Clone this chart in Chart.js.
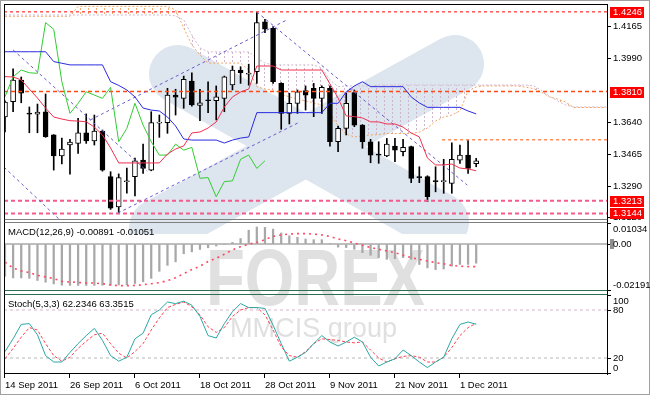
<!DOCTYPE html>
<html lang="en">
<head>
<meta charset="utf-8">
<title>EURUSD Daily - Ichimoku, MACD, Stochastic</title>
<script src="https://cdn.jsdelivr.net/npm/chart.js@4.4.1/dist/chart.umd.min.js"></script>
<style>
    html, body { margin: 0; padding: 0; background: #fff; }
    #chart-wrap { position: relative; width: 650px; height: 395px; overflow: hidden; }
    #chart-wrap canvas { position: absolute; left: 0; }
</style>
</head>
<body>
<div id="chart-wrap">
    <canvas id="backdrop" width="650" height="395" style="top:0"></canvas>
    <canvas id="price-chart" width="650" height="221" style="top:0"></canvas>
    <canvas id="macd-chart" width="650" height="71" style="top:221px"></canvas>
    <canvas id="stoch-chart" width="650" height="103" style="top:292px"></canvas>
</div>
<script>
// Daily bars, 14 Sep 2011 - 5 Dec 2011
const dateLabels = ['14 Sep 2011', '26 Sep 2011', '6 Oct 2011', '18 Oct 2011', '28 Oct 2011', '9 Nov 2011', '21 Nov 2011', '1 Dec 2011'];
const dateTickBars = [0, 8, 16, 24, 32, 40, 48, 56];

const opens = [
    1.3672, 1.3755, 1.3873, 1.3692, 1.3687, 1.3700, 1.3573, 1.3458, 1.3518, 1.3527,
    1.3585, 1.3541, 1.3594, 1.3345, 1.3180, 1.3317, 1.3345, 1.3436, 1.3381, 1.3638,
    1.3640, 1.3791, 1.3773, 1.3868, 1.3735, 1.3762, 1.3760, 1.3773, 1.3846, 1.3928,
    1.3905, 1.3919, 1.4192, 1.4156, 1.3855, 1.3691, 1.3746, 1.3815, 1.3828, 1.3773,
    1.3828, 1.3536, 1.3609, 1.3804, 1.3627, 1.3536, 1.3465, 1.3458, 1.3512, 1.3481,
    1.3509, 1.3342, 1.3345, 1.3320, 1.3318, 1.3308, 1.3435, 1.3463, 1.3416
];
const highs = [
    1.3760, 1.3934, 1.3890, 1.3726, 1.3742, 1.3797, 1.3575, 1.3556, 1.3549, 1.3664,
    1.3688, 1.3682, 1.3600, 1.3372, 1.3360, 1.3392, 1.3447, 1.3523, 1.3700, 1.3682,
    1.3828, 1.3823, 1.3895, 1.3913, 1.3823, 1.3864, 1.3841, 1.3895, 1.3950, 1.3946,
    1.3960, 1.4242, 1.4205, 1.4165, 1.3859, 1.3801, 1.3819, 1.3841, 1.3855, 1.3841,
    1.3841, 1.3622, 1.3801, 1.3819, 1.3630, 1.3549, 1.3536, 1.3554, 1.3554, 1.3549,
    1.3512, 1.3399, 1.3350, 1.3399, 1.3440, 1.3530, 1.3517, 1.3549, 1.3445
];
const lows = [
    1.3589, 1.3700, 1.3749, 1.3585, 1.3585, 1.3560, 1.3381, 1.3414, 1.3359, 1.3472,
    1.3527, 1.3518, 1.3375, 1.3166, 1.3144, 1.3255, 1.3240, 1.3363, 1.3377, 1.3560,
    1.3582, 1.3682, 1.3719, 1.3731, 1.3651, 1.3695, 1.3655, 1.3700, 1.3819, 1.3855,
    1.3845, 1.3855, 1.4132, 1.3855, 1.3604, 1.3633, 1.3691, 1.3709, 1.3673, 1.3691,
    1.3512, 1.3481, 1.3573, 1.3618, 1.3500, 1.3421, 1.3418, 1.3454, 1.3427, 1.3458,
    1.3312, 1.3312, 1.3208, 1.3262, 1.3254, 1.3254, 1.3418, 1.3363, 1.3399
];
const closes = [
    1.3753, 1.3873, 1.3801, 1.3686, 1.3698, 1.3563, 1.3458, 1.3496, 1.3534, 1.3585,
    1.3541, 1.3594, 1.3381, 1.3172, 1.3340, 1.3321, 1.3432, 1.3390, 1.3640, 1.3642,
    1.3791, 1.3779, 1.3877, 1.3737, 1.3749, 1.3760, 1.3782, 1.3891, 1.3928, 1.3913,
    1.3910, 1.4187, 1.4151, 1.3864, 1.3691, 1.3746, 1.3809, 1.3791, 1.3773, 1.3833,
    1.3536, 1.3609, 1.3746, 1.3627, 1.3536, 1.3463, 1.3463, 1.3523, 1.3490, 1.3505,
    1.3336, 1.3340, 1.3235, 1.3318, 1.3322, 1.3440, 1.3463, 1.3390, 1.3432
];

// Ichimoku lines
const tenkan = [
    1.3892, 1.3890, 1.3874, 1.3824, 1.3775, 1.3720, 1.3671, 1.3660, 1.3651, 1.3649,
    1.3645, 1.3616, 1.3573, 1.3502, 1.3420, 1.3420, 1.3420, 1.3420, 1.3420, 1.3420,
    1.3469, 1.3496, 1.3513, 1.3584, 1.3589, 1.3611, 1.3644, 1.3726, 1.3781, 1.3808,
    1.3824, 1.3950, 1.3950, 1.3950, 1.3928, 1.3928, 1.3928, 1.3928, 1.3928, 1.3928,
    1.3852, 1.3775, 1.3677, 1.3673, 1.3666, 1.3645, 1.3644, 1.3633, 1.3633, 1.3616,
    1.3584, 1.3562, 1.3447, 1.3409, 1.3409, 1.3414, 1.3392, 1.3387, 1.3377
];
const kijun = [
    1.4028, 1.4028, 1.4028, 1.4028, 1.4028, 1.4028, 1.3974, 1.3965, 1.3956, 1.3956,
    1.3956, 1.3956, 1.3956, 1.3864, 1.3844, 1.3819, 1.3781, 1.3720, 1.3709, 1.3704,
    1.3671, 1.3622, 1.3551, 1.3545, 1.3545, 1.3545, 1.3545, 1.3529, 1.3545, 1.3556,
    1.3562, 1.3695, 1.3695, 1.3695, 1.3695, 1.3695, 1.3695, 1.3695, 1.3695, 1.3695,
    1.3746, 1.3746, 1.3808, 1.3841, 1.3864, 1.3837, 1.3837, 1.3837, 1.3837, 1.3837,
    1.3781, 1.3748, 1.3724, 1.3724, 1.3724, 1.3724, 1.3724, 1.3704, 1.3688
];
const senkouA = [
    1.4222, 1.4222, 1.4222, 1.4222, 1.4222, 1.4222, 1.4222, 1.4222, 1.4222, 1.4276,
    1.4276, 1.4276, 1.4276, 1.4276, 1.4276, 1.4276, 1.4276, 1.4276, 1.4276, 1.4276,
    1.4276, 1.4256, 1.4158, 1.4065, 1.4010, 1.3966, 1.3966, 1.3966, 1.3966, 1.3966,
    1.3928, 1.3837, 1.3824, 1.3819, 1.3797, 1.3781, 1.3770, 1.3759, 1.3748, 1.3737,
    1.3693, 1.3622, 1.3578, 1.3562, 1.3567, 1.3573, 1.3575, 1.3581, 1.3581, 1.3581,
    1.3581, 1.3589, 1.3611, 1.3649, 1.3671, 1.3682, 1.3704, 1.3813, 1.3835, 1.3841,
    1.3841, 1.3841, 1.3841, 1.3841, 1.3835, 1.3827, 1.3808, 1.3781, 1.3770, 1.3753,
    1.3723, 1.3723, 1.3723, 1.3723, 1.3723
];
const senkouB = [
    1.4229, 1.4229, 1.4229, 1.4229, 1.4229, 1.4229, 1.4229, 1.4229, 1.4229, 1.4229,
    1.4229, 1.4229, 1.4229, 1.4229, 1.4229, 1.4229, 1.4229, 1.4229, 1.4229, 1.4229,
    1.4229, 1.4224, 1.4202, 1.4120, 1.4049, 1.4027, 1.4027, 1.4027, 1.4027, 1.4027,
    1.4027, 1.3994, 1.3966, 1.3956, 1.3956, 1.3956, 1.3956, 1.3956, 1.3956, 1.3939,
    1.3874, 1.3837, 1.3841, 1.3841, 1.3841, 1.3841, 1.3846, 1.3846, 1.3846, 1.3846,
    1.3846, 1.3846, 1.3846, 1.3846, 1.3846, 1.3846, 1.3846, 1.3846, 1.3846, 1.3846,
    1.3846, 1.3846, 1.3846, 1.3846, 1.3846, 1.3843, 1.3819, 1.3786, 1.3759, 1.3737,
    1.3726, 1.3726, 1.3726, 1.3726, 1.3726
];
// Chikou span: closes drawn 26 bars back
const chikouShift = 26;

// Support / resistance levels and trend lines (bar index, price)
const markedLevels = [1.4246, 1.3810, 1.3213, 1.3144];
const shortLevel = 1.3547;
const shortLevelFromBar = 53.8;
const trendLines = [
    [[1.0, 1.4038], [17.5, 1.3375]],
    [[-0.12, 1.3397], [8.0, 1.3056]],
    [[13.9, 1.3146], [36.3, 1.3644]],
    [[10.5, 1.3655], [34.7, 1.4202]],
    [[31.0, 1.4245], [56.9, 1.3299]]
];
const priceTicks = [1.4165, 1.3990, 1.3640, 1.3465, 1.3290, 1.3120];

// MACD(12,26,9)
const macdMain = [
    -0.0150, -0.0158, -0.0158, -0.0160, -0.0170, -0.0178, -0.0186, -0.0192, -0.0193, -0.0193,
    -0.0193, -0.0193, -0.0192, -0.0192, -0.0191, -0.0190, -0.0184, -0.0176, -0.0160, -0.0127,
    -0.0099, -0.0083, -0.0045, -0.0036, -0.0025, -0.0017, -0.0009, -0.0002, 0.0008, 0.0026,
    0.0065, 0.0080, 0.0078, 0.0070, 0.0052, 0.0039, 0.0032, 0.0024, 0.0021, 0.0021,
    0.0002, -0.0014, -0.0016, -0.0024, -0.0040, -0.0052, -0.0063, -0.0071, -0.0068, -0.0063,
    -0.0071, -0.0095, -0.0111, -0.0119, -0.0116, -0.0103, -0.0095, -0.0095, -0.00891
];
const macdSignal = [
    -0.0084, -0.0112, -0.0125, -0.0133, -0.0146, -0.0153, -0.0161, -0.0174, -0.0177, -0.0179,
    -0.0182, -0.0182, -0.0185, -0.0191, -0.0194, -0.0194, -0.0193, -0.0190, -0.0185, -0.0180,
    -0.0171, -0.0157, -0.0138, -0.0119, -0.0103, -0.0081, -0.0066, -0.0047, -0.0027, -0.0012,
    0.0000, 0.0008, 0.0021, 0.0036, 0.0043, 0.0047, 0.0049, 0.0049, 0.0047, 0.0043,
    0.0036, 0.0024, 0.0016, 0.0005, -0.0005, -0.0016, -0.0024, -0.0032, -0.0040, -0.0052,
    -0.0063, -0.0071, -0.0079, -0.0087, -0.0092, -0.0100, -0.0103, -0.0105, -0.01051
];
const macdAxisTicks = [0.01034, 0, -0.02191];

// Stochastic(5,3,3)
const stochMain = [
    28, 44, 62, 63, 49, 23, 15, 15, 27, 38,
    48, 57, 42, 23, 16, 21, 44, 51, 74, 80,
    90, 88, 91, 86, 72, 48, 45, 63, 78, 88,
    83, 83, 82, 61, 38, 16, 21, 27, 38, 48,
    40, 35, 40, 46, 40, 21, 10, 15, 19, 30,
    23, 15, 8, 15, 21, 44, 62, 65, 62.2346
];
const stochSignal = [
    19, 32, 46, 58, 55, 38, 23, 16, 21, 32,
    41, 49, 51, 38, 26, 20, 28, 38, 55, 70,
    83, 87, 90, 84, 74, 59, 52, 58, 72, 80,
    83, 83, 74, 55, 34, 23, 21, 28, 38, 44,
    43, 42, 40, 39, 40, 30, 20, 15, 19, 22,
    23, 21, 15, 15, 21, 33, 48, 58, 63.3515
];
const stochAxisTicks = [100, 80, 20, 0];
const stochLevels = [80, 20];

const X_MIN = -0.12;
const X_MAX = 74.1;
const FONT = { family: '"Liberation Sans", Arial, sans-serif', size: 9.5 };
const FONT_CSS = '9.5px "Liberation Sans", Arial, sans-serif';

const toPoints = (arr, shift) => arr.map((v, i) => ({ x: i - (shift || 0), y: v }));
const last = arr => arr[arr.length - 1];

/**
 * Dotted vertical hatch used for the kumo
 */
function hatch(color) {
    const c = document.createElement('canvas');
    c.width = 8;
    c.height = 4;
    const g = c.getContext('2d');
    g.fillStyle = color;
    g.fillRect(0, 0, 1, 2);
    return g.createPattern(c, 'repeat');
}

/**
 * Frame round the plot area of one sub-window
 */
const panelFrame = {
    id: 'panelFrame',
    afterDraw(chart, args, opts) {
        const { ctx, chartArea } = chart;
        const l = Math.round(chartArea.left) + 0.5;
        const r = Math.round(chartArea.right) + 0.5;
        const t = Math.round(chartArea.top) + 0.5;
        const b = Math.round(chartArea.bottom) - 0.5;
        const side = (color, x1, y1, x2, y2) => {
            ctx.strokeStyle = color;
            ctx.beginPath();
            ctx.moveTo(x1, y1);
            ctx.lineTo(x2, y2);
            ctx.stroke();
        };
        ctx.save();
        ctx.lineWidth = 1;
        side(opts.top, l, t, r, t);
        side(opts.bottom, l, b, r, b);
        side('#000', l, t, l, b);
        side('#000', r, t, r, b);
        ctx.restore();
    }
};

/**
 * Red price boxes on the right axis
 */
const priceMarks = {
    id: 'priceMarks',
    afterDraw(chart) {
        const { ctx, chartArea } = chart;
        const y = chart.scales.y;
        ctx.save();
        ctx.font = FONT_CSS;
        ctx.textBaseline = 'middle';
        ctx.textAlign = 'left';
        markedLevels.forEach(v => {
            const py = Math.round(y.getPixelForValue(v));
            ctx.fillStyle = '#ff0000';
            ctx.fillRect(chartArea.right + 3, py - 5, 34, 11);
            ctx.fillStyle = '#ffffff';
            ctx.fillText(v.toFixed(4), chartArea.right + 6, py + 0.5);
        });
        ctx.restore();
    }
};

/**
 * Indicator name and right-hand scale labels for the sub-windows
 */
const sideLabels = {
    id: 'sideLabels',
    afterDraw(chart, args, opts) {
        const { ctx, chartArea } = chart;
        const y = chart.scales.y;
        ctx.save();
        ctx.font = FONT_CSS;
        ctx.fillStyle = '#000';
        ctx.strokeStyle = '#000';
        ctx.textBaseline = 'middle';
        ctx.textAlign = 'left';
        ctx.fillText(opts.title, chartArea.left + 4, chartArea.top + 10.5);
        opts.values.forEach(v => {
            const py = y.getPixelForValue(v);
            const ty = Math.min(Math.max(py, chartArea.top + 7), chartArea.bottom - 6);
            const tk = Math.min(Math.max(Math.round(py), chartArea.top + 1), chartArea.bottom - 1) + 0.5;
            ctx.beginPath();
            ctx.moveTo(chartArea.right, tk);
            ctx.lineTo(chartArea.right + 4, tk);
            ctx.stroke();
            if (opts.marker && v === 0) {
                ctx.fillStyle = '#909090';
                ctx.fillRect(chartArea.right + 3, Math.round(py) - 5, 4, 10);
                ctx.fillStyle = '#000';
            }
            ctx.fillText(opts.format(v), chartArea.right + 6, ty);
        });
        ctx.restore();
    }
};

/**
 * Background: white page, watermark logo, outer border
 */
function drawBackdrop() {
    const g = document.getElementById('backdrop').getContext('2d');
    g.fillStyle = '#ffffff';
    g.fillRect(0, 0, 650, 395);

    g.save();
    g.beginPath();
    g.rect(4, 4, 603, 230);
    g.clip();
    g.lineCap = 'round';
    g.strokeStyle = '#dde5ee';
    g.lineWidth = 58;
    g.beginPath();
    g.moveTo(178, 74);
    g.lineTo(440, 222);
    g.moveTo(455, 64);
    g.lineTo(158, 228);
    g.stroke();
    g.restore();

    g.fillStyle = '#e0e0e0';
    g.textBaseline = 'alphabetic';
    g.font = 'bold 80px "Liberation Sans", Arial, sans-serif';
    g.fillText('FOREX', 206, 305, 219);
    g.font = '28px "Liberation Sans", Arial, sans-serif';
    g.fillText('MMCIS group', 230, 337, 167);

    g.strokeStyle = '#000';
    g.lineWidth = 1;
    g.beginPath();
    g.moveTo(4.5, 4);
    g.lineTo(4.5, 375);
    g.moveTo(607.5, 4);
    g.lineTo(607.5, 375);
    g.stroke();

    g.strokeStyle = '#a0a0a0';
    g.strokeRect(0.5, 0.5, 649, 394);
}

function xAxis() {
    return { type: 'linear', min: X_MIN, max: X_MAX, offset: false, display: false };
}

function rightAxisBox(extra) {
    return Object.assign({
        position: 'right',
        afterFit: s => { s.width = 43; s.paddingTop = 0; s.paddingBottom = 0; },
        ticks: { display: false },
        grid: { drawOnChartArea: false, drawTicks: false },
        border: { display: false }
    }, extra);
}

const baseOptions = (padding) => ({
    responsive: false,
    animation: false,
    devicePixelRatio: 1,
    events: [],
    layout: { padding: padding }
});

/**
 * Price window: candles + Ichimoku + levels
 */
function buildPriceChart() {
    const flat = (v, from) => [{ x: from, y: v }, { x: X_MAX, y: v }];
    const levelStyle = [
        { color: '#ff0000', width: 1, dash: [3, 3] },
        { color: '#ff4a10', width: 1.5, dash: [4, 3] },
        { color: '#f45a8a', width: 2, dash: [4, 3] },
        { color: '#f45a8a', width: 2, dash: [4, 3] }
    ];

    const datasets = [
        {
            type: 'line', label: 'Senkou A', data: toPoints(senkouA), order: 20,
            borderColor: '#f4a460', borderWidth: 1, borderDash: [2, 2], pointRadius: 0,
            fill: { target: 1, above: hatch('#f2b070'), below: hatch('#cdb6cd') }
        },
        {
            type: 'line', label: 'Senkou B', data: toPoints(senkouB), order: 19,
            borderColor: '#d2b8d2', borderWidth: 1, borderDash: [2, 2], pointRadius: 0, fill: false
        },
        {
            type: 'bar', label: 'Wicks', order: 15, grouped: false, barThickness: 1,
            data: lows.map((l, i) => ({ x: i, y: [l, highs[i]] })),
            backgroundColor: '#000', borderWidth: 0
        },
        {
            type: 'bar', label: 'Bodies', order: 14, grouped: false, barThickness: 5, minBarLength: 1,
            data: opens.map((o, i) => ({ x: i, y: [o, closes[i]] })),
            backgroundColor: opens.map((o, i) => closes[i] >= o ? '#ffffff' : '#000000'),
            borderColor: '#000', borderWidth: 1, borderSkipped: false
        }
    ];

    markedLevels.forEach((v, k) => {
        datasets.push({
            type: 'line', data: flat(v, X_MIN), order: 10, pointRadius: 0, fill: false,
            borderColor: levelStyle[k].color, borderWidth: levelStyle[k].width, borderDash: levelStyle[k].dash
        });
    });
    datasets.push({
        type: 'line', data: flat(shortLevel, shortLevelFromBar), order: 10, pointRadius: 0, fill: false,
        borderColor: '#ff8a55', borderWidth: 1.5, borderDash: [3, 3]
    });

    trendLines.forEach(seg => {
        datasets.push({
            type: 'line', data: seg.map(p => ({ x: p[0], y: p[1] })), order: 9, pointRadius: 0, fill: false,
            borderColor: '#6a5acd', borderWidth: 1, borderDash: [3, 3]
        });
    });

    datasets.push(
        {
            type: 'line', label: 'Chikou', data: toPoints(closes.slice(chikouShift)), order: 6,
            borderColor: '#33cc33', borderWidth: 1, pointRadius: 0, fill: false
        },
        {
            type: 'line', label: 'Kijun', data: toPoints(kijun), order: 5,
            borderColor: '#2a2ae0', borderWidth: 1, pointRadius: 0, fill: false
        },
        {
            type: 'line', label: 'Tenkan', data: toPoints(tenkan), order: 4,
            borderColor: '#f03050', borderWidth: 1, pointRadius: 0, fill: false
        }
    );

    return new Chart(document.getElementById('price-chart'), {
        type: 'bar',
        data: { datasets: datasets },
        options: Object.assign(baseOptions({ top: 4, left: 4, right: 0, bottom: 1 }), {
            plugins: {
                legend: { display: false },
                tooltip: { enabled: false },
                panelFrame: { top: '#000', bottom: '#808080' }
            },
            scales: {
                x: xAxis(),
                y: {
                    position: 'right',
                    min: 1.3108,
                    max: 1.4289,
                    afterFit: s => { s.width = 43; s.paddingTop = 0; s.paddingBottom = 0; },
                    afterBuildTicks: s => { s.ticks = priceTicks.map(v => ({ value: v })); },
                    ticks: {
                        autoSkip: false, padding: 2, color: '#000', font: FONT,
                        callback: v => v.toFixed(4)
                    },
                    grid: { drawOnChartArea: false, drawTicks: true, tickLength: 4, color: '#000' },
                    border: { display: false }
                }
            }
        }),
        plugins: [panelFrame, priceMarks]
    });
}

/**
 * MACD window
 */
function buildMacdChart() {
    return new Chart(document.getElementById('macd-chart'), {
        type: 'bar',
        data: {
            datasets: [
                {
                    type: 'line', data: [{ x: X_MIN, y: 0 }, { x: X_MAX, y: 0 }], order: 3,
                    borderColor: '#a8a8a8', borderWidth: 1.5, pointRadius: 0, fill: false
                },
                {
                    type: 'bar', label: 'MACD', data: toPoints(macdMain), order: 2,
                    grouped: false, barThickness: 1.6, backgroundColor: '#a8a8a8', borderWidth: 0
                },
                {
                    type: 'line', label: 'Signal', data: toPoints(macdSignal), order: 1,
                    borderColor: '#ff4a64', borderWidth: 1.6, borderDash: [2, 4], pointRadius: 0, fill: false
                }
            ]
        },
        options: Object.assign(baseOptions({ top: 1, left: 4, right: 0, bottom: 1 }), {
            plugins: {
                legend: { display: false },
                tooltip: { enabled: false },
                panelFrame: { top: '#808080', bottom: '#2f6f4f' },
                sideLabels: {
                    title: 'MACD(12,26,9) ' + last(macdMain).toFixed(5) + ' ' + last(macdSignal).toFixed(5),
                    values: macdAxisTicks,
                    marker: true,
                    format: v => v === 0 ? '0.00' : v.toFixed(5)
                }
            },
            scales: {
                x: xAxis(),
                y: rightAxisBox({ min: -0.02191, max: 0.01034 })
            }
        }),
        plugins: [panelFrame, sideLabels]
    });
}

/**
 * Stochastic window with the date axis
 */
function buildStochChart() {
    const levelColors = ['#d8b4c8', '#b8b8b8'];
    const datasets = stochLevels.map((v, k) => ({
        type: 'line', data: [{ x: X_MIN, y: v }, { x: X_MAX, y: v }], order: 5,
        borderColor: levelColors[k], borderWidth: 1, borderDash: [3, 3], pointRadius: 0, fill: false
    }));
    datasets.push(
        {
            type: 'line', label: 'Signal', data: toPoints(stochSignal), order: 2,
            borderColor: '#ff4050', borderWidth: 1, borderDash: [3, 2], pointRadius: 0, fill: false
        },
        {
            type: 'line', label: 'Main', data: toPoints(stochMain), order: 1,
            borderColor: '#2aa8a4', borderWidth: 1, pointRadius: 0, fill: false
        }
    );

    return new Chart(document.getElementById('stoch-chart'), {
        type: 'line',
        data: { datasets: datasets },
        options: Object.assign(baseOptions({ top: 2, left: 4, right: 0, bottom: 1 }), {
            plugins: {
                legend: { display: false },
                tooltip: { enabled: false },
                panelFrame: { top: '#2f6f4f', bottom: '#000' },
                sideLabels: {
                    title: 'Stoch(5,3,3) ' + last(stochMain).toFixed(4) + ' ' + last(stochSignal).toFixed(4),
                    values: stochAxisTicks,
                    format: v => String(v)
                }
            },
            scales: {
                x: {
                    type: 'linear', min: X_MIN, max: X_MAX, offset: false,
                    afterFit: s => { s.height = 20; s.paddingLeft = 0; s.paddingRight = 0; },
                    afterBuildTicks: s => { s.ticks = dateTickBars.map(v => ({ value: v })); },
                    ticks: {
                        align: 'start', maxRotation: 0, autoSkip: false, padding: 2,
                        color: '#000', font: FONT,
                        callback: (v, i) => dateLabels[i]
                    },
                    grid: { drawOnChartArea: false, drawTicks: true, tickLength: 4, color: '#000' },
                    border: { display: false }
                },
                y: rightAxisBox({ min: 0, max: 100 })
            }
        }),
        plugins: [panelFrame, sideLabels]
    });
}

drawBackdrop();
buildPriceChart();
buildMacdChart();
buildStochChart();
</script>
</body>
</html>
